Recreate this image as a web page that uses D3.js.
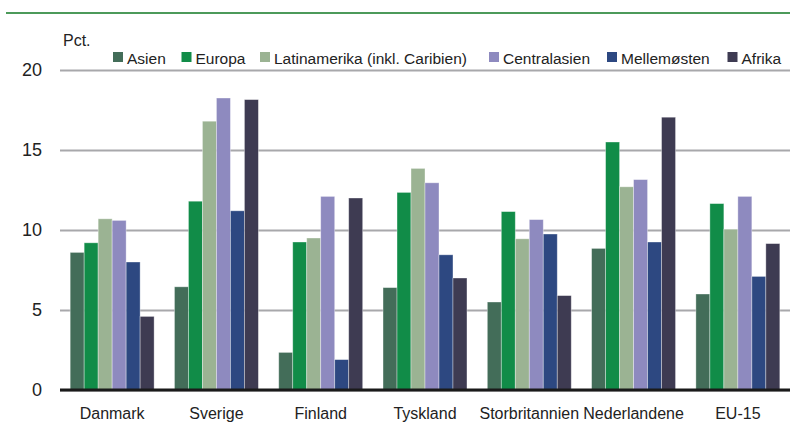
<!DOCTYPE html>
<html>
<head>
<meta charset="utf-8">
<script src="https://cdn.jsdelivr.net/npm/d3@7"></script>
<style>
  body { margin: 0; background: #fff; }
  text { font-family: "Liberation Sans", Arial, sans-serif; fill: #222; }
</style>
</head>
<body>
<svg id="chart" width="790" height="424"></svg>
<script>
// countries on the x axis
const countries = ["Danmark", "Sverige", "Finland", "Tyskland", "Storbritannien", "Nederlandene", "EU-15"];
// regions of origin (legend order)
const regions = ["Asien", "Europa", "Latinamerika (inkl. Caribien)", "Centralasien", "Mellemøsten", "Afrika"];
const regionColors = ["#436d59", "#118c48", "#9bb393", "#8e8abf", "#2d4881", "#3e3b52"];

// Pct. per region, one value per country
const asien      = [8.6, 6.45, 2.35, 6.4, 5.5, 8.85, 6.0];
const europa     = [9.2, 11.8, 9.25, 12.35, 11.15, 15.5, 11.65];
const latin      = [10.7, 16.8, 9.5, 13.85, 9.45, 12.7, 10.05];
const central    = [10.6, 18.25, 12.1, 12.95, 10.65, 13.15, 12.1];
const mellem     = [8.0, 11.2, 1.9, 8.45, 9.75, 9.25, 7.1];
const afrika     = [4.6, 18.15, 12.0, 7.0, 5.9, 17.05, 9.15];
const yTicks = [0, 5, 10, 15, 20];

const seriesValues = [asien, europa, latin, central, mellem, afrika];

const svg = d3.select("#chart");
const plotLeft = 60, plotRight = 790, plotTop = 70, plotBottom = 390;

const x = d3.scaleBand().domain(countries).range([plotLeft, plotRight]).paddingInner(0.195).paddingOuter(0.0975);
const xInner = d3.scaleBand().domain(regions).range([0, x.bandwidth()]);
const y = d3.scaleLinear().domain([0, 20]).range([plotBottom, plotTop]);

// top green rule
svg.append("line")
   .attr("x1", 6).attr("x2", 790).attr("y1", 13).attr("y2", 13)
   .style("stroke", "#4c9a5a").style("stroke-width", 2);

// gridlines + tick labels
const yAxis = svg.append("g")
   .attr("transform", `translate(${plotLeft},0)`)
   .call(d3.axisLeft(y).tickValues(yTicks).tickSize(-(plotRight - plotLeft)).tickPadding(18).tickFormat(d3.format("d")));
yAxis.select(".domain").remove();
yAxis.selectAll(".tick line").style("stroke", "#a8a8ab").style("stroke-width", 2);
yAxis.selectAll(".tick text").style("font-size", "18px").style("fill", "#222")
     .style("font-family", "'Liberation Sans', Arial, sans-serif");

// bars
const groups = svg.append("g").selectAll("g")
   .data(countries)
   .enter()
   .append("g")
   .attr("transform", d => `translate(${x(d)},0)`);

groups.selectAll("rect")
   .data((c, i) => regions.map((r, j) => ({ region: r, value: seriesValues[j][i], color: regionColors[j] })))
   .enter()
   .append("rect")
   .attr("x", d => xInner(d.region))
   .attr("y", d => y(d.value))
   .attr("width", xInner.bandwidth())
   .attr("height", d => y(0) - y(d.value))
   .style("fill", d => d.color)
   .style("stroke", "rgba(255,255,255,0.45)")
   .style("stroke-width", 0.8);

// baseline
svg.append("line")
   .attr("x1", plotLeft).attr("x2", plotRight).attr("y1", y(0)).attr("y2", y(0))
   .style("stroke", "#1a1a1a").style("stroke-width", 3);

// x labels
svg.append("g").selectAll("text")
   .data(countries)
   .enter()
   .append("text")
   .attr("x", d => x(d) + x.bandwidth() / 2)
   .attr("y", 419)
   .attr("text-anchor", "middle")
   .style("font-size", "16px")
   .text(d => d);

// unit label
svg.append("text").attr("x", 63).attr("y", 46).style("font-size", "16px").text("Pct.");

// legend
const legendX = [113, 181.5, 260, 489, 607, 727.5];
const legend = svg.append("g").selectAll("g")
   .data(regions)
   .enter()
   .append("g")
   .attr("transform", (d, i) => `translate(${legendX[i]},52)`);
legend.append("rect")
   .attr("width", 10).attr("height", 10)
   .style("fill", (d, i) => regionColors[i]);
legend.append("text")
   .attr("x", 14).attr("y", 11.5)
   .style("font-size", "15.5px")
   .text(d => d);
</script>
</body>
</html>
